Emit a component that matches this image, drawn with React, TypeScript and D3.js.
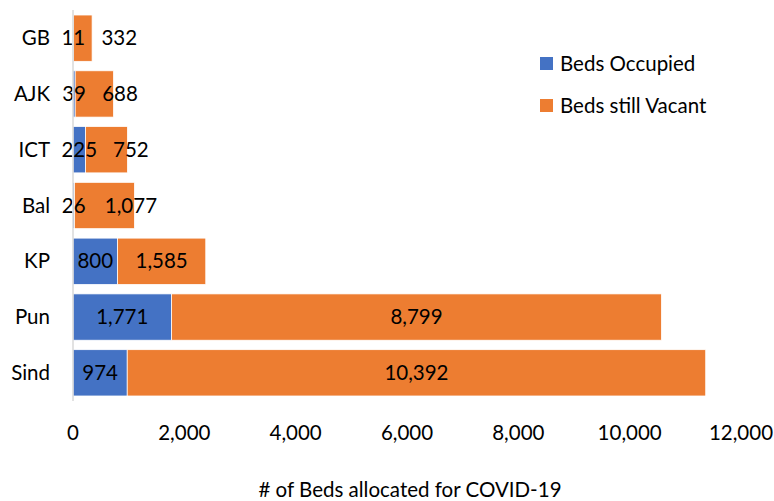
import React from 'react';
import * as d3 from 'd3';

const regions = ['GB', 'AJK', 'ICT', 'Bal', 'KP', 'Pun', 'Sind'];
const bedsOccupied = [11, 39, 225, 26, 800, 1771, 974];
const bedsVacant = [332, 688, 752, 1077, 1585, 8799, 10392];
const xTicks = [0, 2000, 4000, 6000, 8000, 10000, 12000];
const seriesNames = ['Beds Occupied', 'Beds still Vacant'];
const seriesColors = ['#4472C4', '#ED7D31'];

const W = 774;
const H = 501;
const FONT = 'Lato, "Open Sans", sans-serif';
const FS = 20.5;
const fmt = d3.format(',');

const App: React.FC = () => {
  const x = d3.scaleLinear().domain([0, 12000]).range([73, 741]);
  const y = d3
    .scaleBand<string>()
    .domain(regions)
    .range([10, 401])
    .paddingInner(0.17)
    .paddingOuter(0.09);
  const bw = y.bandwidth();
  // rough text width to nudge labels that don't fit their segment
  const textW = (s: string) => s.length * 11.2;

  return (
    <svg
      width={W}
      height={H}
      style={{ position: 'absolute', left: 0, top: 0 }}
      fontFamily={FONT}
    >
      <rect width={W} height={H} fill="#fff" />
      {regions.map((r, i) => {
        const yy = y(r)!;
        const occ = bedsOccupied[i];
        const vac = bedsVacant[i];
        const cy = yy + bw / 2;
        const occMid = (x(0) + x(occ)) / 2;
        const occLabel = fmt(occ);
        const vacLabel = fmt(vac);
        const occRight = occMid + textW(occLabel) / 2;
        let vacMid = (x(occ) + x(occ + vac)) / 2;
        const minMid = occRight + 18 + textW(vacLabel) / 2;
        if (vacMid < minMid) vacMid = minMid;
        return (
          <g key={r}>
            <rect x={x(0)} y={yy} width={x(occ) - x(0)} height={bw} fill={seriesColors[0]} stroke="#fff" strokeWidth={0.75} />
            <rect x={x(occ)} y={yy} width={x(occ + vac) - x(occ)} height={bw} fill={seriesColors[1]} stroke="#fff" strokeWidth={0.75} />
            <text x={50} y={cy} dy="0.35em" textAnchor="end" fontSize={FS} fill="#000">
              {r}
            </text>
            <text x={occMid} y={cy} dy="0.35em" textAnchor="middle" fontSize={FS} fill="#000">
              {occLabel}
            </text>
            <text x={vacMid} y={cy} dy="0.35em" textAnchor="middle" fontSize={FS} fill="#000">
              {vacLabel}
            </text>
          </g>
        );
      })}
      <line x1={x(0)} x2={x(0)} y1={10} y2={401} stroke="#D9D9D9" strokeWidth={1.5} />
      {xTicks.map((t) => (
        <text key={t} x={x(t)} y={433} dy="0.35em" textAnchor="middle" fontSize={FS} fill="#000">
          {fmt(t)}
        </text>
      ))}
      <text x={410} y={490} dy="0.35em" textAnchor="middle" fontSize={FS} fill="#000">
        # of Beds allocated for COVID-19
      </text>
      {seriesNames.map((s, i) => (
        <g key={s} transform={`translate(540,${57 + i * 42})`}>
          <rect width={13} height={13} fill={seriesColors[i]} />
          <text x={20} y={6.5} dy="0.35em" fontSize={FS} fill="#000">
            {s}
          </text>
        </g>
      ))}
    </svg>
  );
};

export default App;
